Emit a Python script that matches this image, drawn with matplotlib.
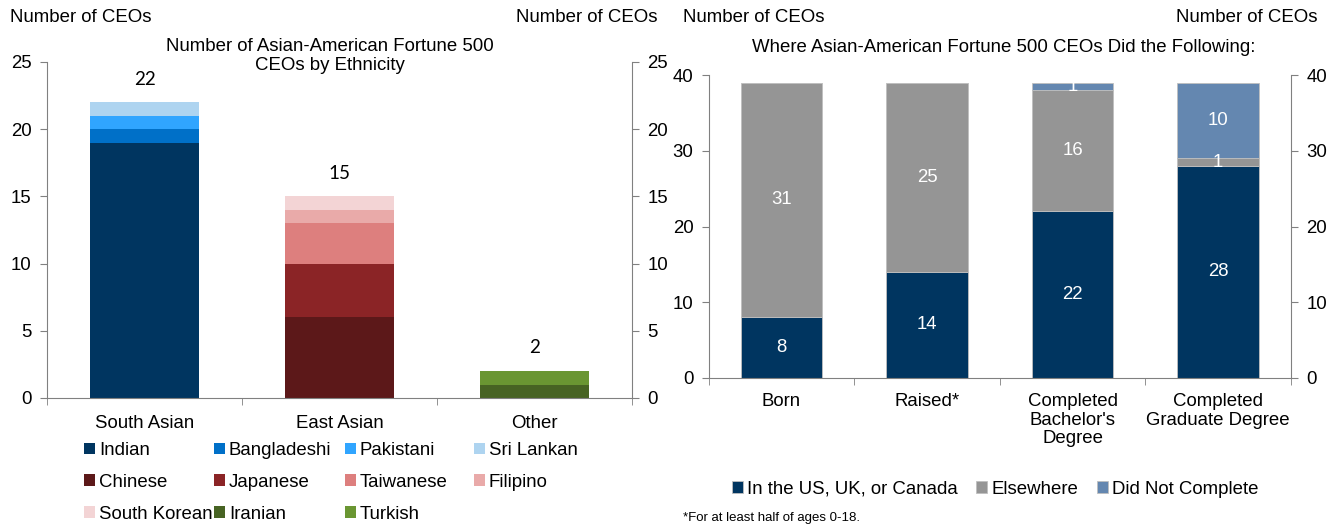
import matplotlib
matplotlib.use("Agg")
import matplotlib.pyplot as plt
import numpy as np

plt.rcParams['font.family'] = ['Liberation Sans', 'DejaVu Sans']

# ---------------- data ----------------
groups = ["South Asian", "East Asian", "Other"]
ethnicities = ["Indian", "Bangladeshi", "Pakistani", "Sri Lankan",
               "Chinese", "Japanese", "Taiwanese", "Filipino",
               "South Korean", "Iranian", "Turkish"]
eth_group = [0, 0, 0, 0, 1, 1, 1, 1, 1, 2, 2]
eth_values = [19, 1, 1, 1, 6, 4, 3, 1, 1, 1, 1]
eth_colors = ["#003560", "#0070C8", "#30A5FF", "#AED4F0",
              "#5C1819", "#8B2426", "#DD7F7E", "#E9AAA9",
              "#F3D4D5", "#476323", "#6A9632"]

stages = ["Born", "Raised*", "Completed\nBachelor's\nDegree", "Completed\nGraduate Degree"]
us_uk_ca = [8, 14, 22, 28]
elsewhere = [31, 25, 16, 1]
did_not = [0, 0, 1, 10]
series_names = ["In the US, UK, or Canada", "Elsewhere", "Did Not Complete"]
series_colors = ["#003560", "#959595", "#6487B0"]

W, H = 1340, 526
fig = plt.figure(figsize=(W / 100, H / 100), dpi=100)

def fx(px):
    return px / W

def fy(py):
    return 1 - py / H

FS = 13.4
SPINE = "#808080"

# ---------------- left chart ----------------
axL = fig.add_axes([fx(47), fy(398), fx(632) - fx(47), fy(62) - fy(398)])
bottoms = np.zeros(len(groups))
handlesL = []
for name, g, v, c in zip(ethnicities, eth_group, eth_values, eth_colors):
    x = np.arange(len(groups))
    h = np.zeros(len(groups))
    h[g] = v
    b = axL.bar(x, h, bottom=bottoms, width=0.56, color=c, label=name, linewidth=0)
    bottoms = bottoms + h
    handlesL.append(b)
for i, tot in enumerate(bottoms):
    axL.text(i, tot + 1.1, f"{int(tot)}", ha="center", va="bottom",
             fontsize=13.5, family=["Lato", "DejaVu Sans"])
axL.set_xlim(-0.5, 2.5)
axL.set_ylim(0, 25)
axL.set_yticks([0, 5, 10, 15, 20, 25])
axL.set_xticks(range(len(groups)))
axL.set_xticklabels(groups, fontsize=FS)
axL.set_xticks([-0.5, 0.5, 1.5, 2.5], minor=True)
axL.tick_params(axis="x", which="major", length=0, pad=12)
axL.tick_params(axis="x", which="minor", length=5, color=SPINE, direction="out")
axL.tick_params(axis="y", which="major", length=5, color=SPINE, labelsize=FS,
                left=True, right=True, labelleft=True, labelright=True, pad=6)
axL.spines["top"].set_visible(False)
for s in ["left", "right", "bottom"]:
    axL.spines[s].set_color(SPINE)

fig.text(fx(10), fy(18), "Number of CEOs", ha="left", va="center", fontsize=FS)
fig.text(fx(657), fy(18), "Number of CEOs", ha="right", va="center", fontsize=FS)
fig.text(fx(330), fy(56), "Number of Asian-American Fortune 500\nCEOs by Ethnicity",
         ha="center", va="center", fontsize=FS, linespacing=1.2)

# legend: 4 columns placed individually
col_x = [84, 214, 345, 474]
cols = [[0, 4, 8], [1, 5, 9], [2, 6, 10], [3, 7]]
for cx, idxs in zip(col_x, cols):
    leg = fig.legend([handlesL[i] for i in idxs], [ethnicities[i] for i in idxs],
                     loc="upper left", bbox_to_anchor=(fx(cx), fy(442)),
                     frameon=False, fontsize=FS, handlelength=0.6, handleheight=0.6,
                     handletextpad=0.2, labelspacing=0.8, borderpad=0, borderaxespad=0)

# ---------------- right chart ----------------
axR = fig.add_axes([fx(708.75), fy(378), fx(1291) - fx(708.75), fy(75) - fy(378)])
x = np.arange(len(stages))
bot = np.zeros(len(stages))
handlesR = []
for name, vals, c in zip(series_names, [us_uk_ca, elsewhere, did_not], series_colors):
    vals = np.array(vals, dtype=float)
    b = axR.bar(x, vals, bottom=bot, width=0.56, color=c, label=name,
                edgecolor="#bfbfbf", linewidth=0.6)
    handlesR.append(b)
    for xi, v, bb in zip(x, vals, bot):
        if v > 0:
            axR.text(xi, bb + v / 2, f"{int(v)}", ha="center", va="center",
                     color="white", fontsize=FS)
    bot = bot + vals
axR.set_xlim(-0.5, 3.5)
axR.set_ylim(0, 40)
axR.set_yticks([0, 10, 20, 30, 40])
axR.set_xticks(x)
axR.set_xticklabels(stages, fontsize=FS, linespacing=1.12)
axR.set_xticks([-0.5, 0.5, 1.5, 2.5, 3.5], minor=True)
axR.tick_params(axis="x", which="major", length=0, pad=11)
axR.tick_params(axis="x", which="minor", length=5, color=SPINE, direction="out")
axR.tick_params(axis="y", which="major", length=5, color=SPINE, labelsize=FS,
                left=True, right=True, labelleft=True, labelright=True, pad=6)
axR.spines["top"].set_visible(False)
for s in ["left", "right", "bottom"]:
    axR.spines[s].set_color(SPINE)

fig.text(fx(683), fy(18), "Number of CEOs", ha="left", va="center", fontsize=FS)
fig.text(fx(1318), fy(18), "Number of CEOs", ha="right", va="center", fontsize=FS)
fig.text(fx(1004), fy(48), "Where Asian-American Fortune 500 CEOs Did the Following:",
         ha="center", va="center", fontsize=FS)

fig.legend(handlesR, series_names, loc="center", bbox_to_anchor=(fx(995), fy(489)),
           ncol=3, frameon=False, fontsize=FS, handlelength=0.6, handleheight=0.6,
           handletextpad=0.2, columnspacing=1.0, borderpad=0)

fig.text(fx(683), fy(518), "*For at least half of ages 0-18.", ha="left", va="center",
         fontsize=9.5)

fig.savefig("out.png", dpi=100)
